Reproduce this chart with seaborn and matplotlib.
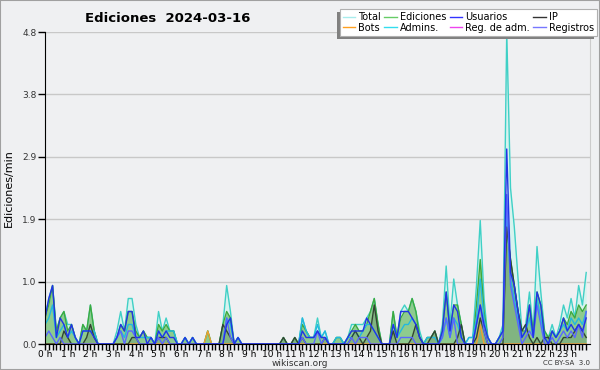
import numpy as np
import pandas as pd
import matplotlib
matplotlib.use("Agg")
import matplotlib.pyplot as plt
from matplotlib.lines import Line2D
from matplotlib.patches import Rectangle
import seaborn as sns

# ---- data: edits per 10-minute bin (6 bins per hour, 24 hours) ----
total = [4,7,9,2,4,5,  3,3,1,0,3,2,  6,2,0,0,0,0,  0,2,5,2,7,7,
         3,1,2,1,1,0,  5,2,4,2,2,0,  0,1,0,1,0,0,  0,2,0,0,0,3,
         9,5,0,1,0,0,  0,0,0,0,0,0,  0,0,0,1,0,0,  1,0,4,2,1,1,
         4,1,2,0,0,1,  1,0,1,3,3,3,  3,4,5,7,3,0,  0,0,5,1,5,6,
         5,7,5,2,0,1,  1,2,0,3,12,3, 10,6,3,0,1,1, 9,19,7,1,0,0,
         1,3,48,24,18,10, 2,3,8,2,15,8, 2,1,3,1,3,6, 4,7,4,9,6,11]
ediciones = [4,6,9,2,4,5,  2,3,1,0,3,2,  6,2,0,0,0,0,  0,1,3,2,5,5,
             2,1,2,1,1,0,  3,2,3,2,2,0,  0,1,0,1,0,0,  0,2,0,0,0,3,
             5,4,0,1,0,0,  0,0,0,0,0,0,  0,0,0,1,0,0,  1,0,3,2,1,1,
             2,1,1,0,0,1,  1,0,1,2,3,2,  2,3,5,7,3,0,  0,0,5,1,4,5,
             5,7,5,1,0,1,  1,2,0,2,8,2,  6,6,3,0,0,0,  6,13,5,1,0,0,
             1,2,18,13,9,5, 2,2,6,2,8,6, 2,1,2,1,2,4, 3,5,4,6,5,6]
usuarios = [4,7,9,1,4,3,  1,3,1,0,2,2,  2,1,0,0,0,0,  0,1,3,2,5,5,
            1,1,2,0,1,0,  2,1,2,1,1,0,  0,1,0,1,0,0,  0,0,0,0,0,0,
            3,4,0,1,0,0,  0,0,0,0,0,0,  0,0,0,0,0,0,  0,0,2,1,1,1,
            2,1,1,0,0,0,  0,0,1,2,2,2,  2,4,3,2,1,0,  0,0,3,1,5,5,
            5,4,3,1,0,0,  0,0,0,2,8,2,  6,5,1,0,0,0,  3,6,3,1,0,0,
            1,2,30,11,9,5, 1,2,6,1,8,6, 1,0,2,1,2,4, 2,3,2,3,2,4]
ip = [0,0,0,0,0,2,  1,0,0,0,0,1,  3,1,0,0,0,0,  0,0,0,0,0,1,
      1,0,0,0,0,0,  1,1,1,0,0,0,  0,0,0,0,0,0,  0,0,0,0,0,3,
      2,1,0,0,0,0,  0,0,0,0,0,0,  0,0,0,1,0,0,  1,0,1,0,0,0,
      0,0,1,0,0,0,  0,0,0,1,2,1,  0,1,2,6,2,0,  0,0,2,0,0,0,
      0,1,3,1,0,0,  1,2,0,0,0,0,  0,1,3,0,0,0,  1,4,2,0,0,0,
      0,0,18,13,9,5, 2,3,1,0,1,0, 1,1,0,0,0,1, 1,1,2,3,2,1]
bots = [0]*42 + [0,2,0,0,0,0] + [0]*66 + [0,3,0,0,0,0] + [0]*24
admins = [3,4,6,1,2,3,  1,2,1,0,2,2,  2,2,0,0,0,0,  0,1,2,1,3,3,
          1,1,1,1,1,0,  2,1,2,2,2,0,  0,1,0,1,0,0,  0,0,0,0,0,0,
          4,3,0,1,0,0,  0,0,0,0,0,0,  0,0,0,0,0,0,  0,0,4,2,1,1,
          3,1,2,0,0,1,  1,0,1,1,2,1,  2,3,3,2,1,0,  0,0,3,1,2,3,
          3,4,3,1,0,1,  1,1,0,1,4,1,  4,3,1,0,1,1,  4,10,4,1,0,0,
          1,2,20,10,7,4, 1,2,4,1,7,4, 1,0,2,1,2,3, 2,4,3,4,3,5]
reg_adm = [0]*144
registros = [1,2,1,0,1,0,  0,0,0,0,0,0,  0,0,0,0,0,0,  0,1,2,0,2,2,
             1,0,0,0,0,0,  1,0,1,0,0,0,  0,0,0,0,0,0,  0,0,0,0,0,0,
             4,1,0,0,0,0,  0,0,0,0,0,0,  0,0,0,0,0,0,  0,0,1,0,0,0,
             2,0,1,0,0,0,  0,0,0,1,0,1,  1,1,0,0,0,0,  0,0,0,0,1,1,
             1,1,0,0,0,0,  0,0,0,1,4,1,  4,0,0,0,0,0,  3,6,2,0,0,0,
             0,1,23,9,6,3, 0,1,2,1,6,3, 0,0,1,0,1,2, 1,2,1,3,1,5]

hour_labels = [f"{h} h" for h in range(24)]
ytick_vals = [0.0, 0.96, 1.92, 2.88, 3.84, 4.8]
ytick_labels = ["0.0", "1.0", "1.9", "2.9", "3.8", "4.8"]

# drawing order (bottom to top)
names = ["Reg. de adm.", "Total", "Ediciones", "Admins.", "Bots", "IP", "Registros", "Usuarios"]
series = {"Total": total, "Ediciones": ediciones, "Usuarios": usuarios, "IP": ip,
          "Bots": bots, "Admins.": admins, "Reg. de adm.": reg_adm, "Registros": registros}
line_colors = {"Total": "#3fd0c6", "Ediciones": "#3eaa3e", "Usuarios": "#2233e6",
               "IP": "#334433", "Bots": "#f0a030", "Admins.": "#22b8e0",
               "Reg. de adm.": "#e040e0", "Registros": "#5a66ff"}
legend_colors = {"Total": "#a8ecec", "Ediciones": "#66cc66", "Usuarios": "#3333ff",
                 "IP": "#333333", "Bots": "#ffa020", "Admins.": "#33ddee",
                 "Reg. de adm.": "#ee44ee", "Registros": "#7777ff"}

t = np.arange(144) / 6.0
rows = []
for n in names:
    for ti, v in zip(t, series[n]):
        rows.append({"t": ti, "v": v / 10.0, "serie": n})
df = pd.DataFrame(rows)

bg = "#eff0f2"
fig = plt.figure(figsize=(6, 3.7), dpi=100, facecolor=bg)
ax = fig.add_axes([45/600, 1-344/370, 545/600, 312/370])
ax.set_facecolor(bg)

tv = np.array(total) / 10.0
ev = np.array(ediciones) / 10.0
iv = np.array(ip) / 10.0
ax.fill_between(t, 0, tv, color="#d6f3ef", lw=0, zorder=1)
ax.fill_between(t, 0, ev, color="#8ecb8e", lw=0, zorder=1.1)
ax.fill_between(t, 0, iv, color="#556655", alpha=0.22, lw=0, zorder=1.2)

sns.lineplot(data=df, x="t", y="v", hue="serie", hue_order=names,
             palette=line_colors, linewidth=1.0, legend=False, ax=ax, zorder=2)
for i, ln in enumerate(ax.get_lines()):
    ln.set_zorder(2 + i * 0.01)

ax.set_xlim(0, 24)
ax.set_ylim(0, 4.8)
ax.set_xticks(range(24))
ax.set_xticklabels(hour_labels, fontsize=6.5)
ax.set_xticks(np.arange(0, 24, 1/6), minor=True)
ax.set_yticks(ytick_vals)
ax.set_yticklabels(ytick_labels, fontsize=6.5, color="#333333")
ax.tick_params(axis="x", which="both", length=4, width=1, pad=0.5, color="black")
ax.tick_params(axis="y", length=5, width=1, pad=1)
ax.grid(axis="y", color="#c8c8c8", lw=1)
ax.set_axisbelow(True)
ax.spines["top"].set_visible(False)
ax.spines["right"].set_color("#cccccc")
ax.spines["left"].set_color("black")
ax.spines["bottom"].set_color("black")
ax.set_xlabel("")
ax.set_ylabel("Ediciones/min", fontsize=8, labelpad=6)

fig.text(85/600, 1-18/370, "Ediciones  2024-03-16", fontsize=9.5, fontweight="bold",
         va="center", ha="left")
fig.text(300/600, 1-363/370, "wikiscan.org", fontsize=6.5, ha="center", va="center", color="#333333")
fig.text(590/600, 1-363/370, "CC BY-SA  3.0", fontsize=5, ha="right", va="center", color="#333333")

order = ["Total", "Bots", "Ediciones", "Admins.", "Usuarios", "Reg. de adm.", "IP", "Registros"]
handles = [Line2D([0], [0], color=legend_colors[n], lw=1) for n in order]
leg = fig.legend(handles, order, ncol=4, loc="upper right",
                 bbox_to_anchor=(597/600, 1-9/370), fontsize=7, frameon=True,
                 fancybox=False, handlelength=1.3,
                 handletextpad=0.3, columnspacing=0.35, labelspacing=0.1,
                 borderpad=0.3, borderaxespad=0, edgecolor="#b0b0b0", framealpha=1,
                 facecolor="white")
leg.get_frame().set_linewidth(0.8)
leg.set_zorder(10)

fig.canvas.draw()
bb = leg.get_window_extent()
H = fig.bbox.height
W = fig.bbox.width
sh = Rectangle(((bb.x0 - 3) / W, (bb.y0 - 3) / H), bb.width / W, bb.height / H,
               transform=fig.transFigure, facecolor="#808080", edgecolor="none", zorder=9)
fig.patches.append(sh)

fig.patches.append(Rectangle((0, 0), 1, 1, transform=fig.transFigure, fill=False,
                             edgecolor="#a0a0a0", lw=1.5))
fig.savefig("out.png", dpi=100, facecolor=bg)
